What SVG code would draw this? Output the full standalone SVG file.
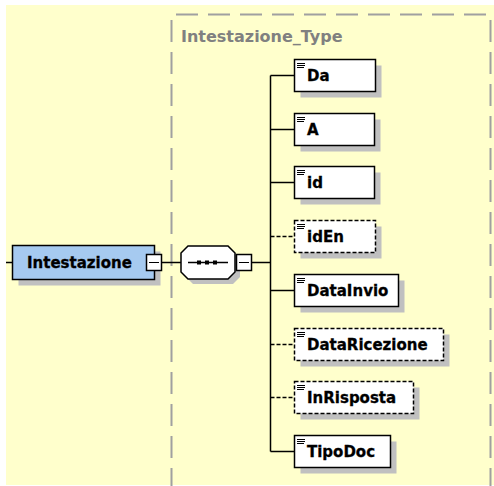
<svg xmlns="http://www.w3.org/2000/svg" width="494" height="486" viewBox="0 0 494 486">
<style>
.bg{fill:#FFFFCC}
.frame{fill:none;stroke:#A0A0A0;stroke-width:2;stroke-dasharray:22,10}
.title{font-family:"DejaVu Sans",sans-serif;font-weight:bold;font-size:16px;fill:#808080}
.shadow{fill:#C0C0C0}
.box{fill:#FFFFFF;stroke:#000;stroke-width:1.5}
.opt{fill:#FFFFFF;stroke:#000;stroke-width:1.5;stroke-dasharray:4,2}
.root{fill:#A6CAF0;stroke:#000;stroke-width:1.5}
.lbl{font-family:"DejaVu Sans",sans-serif;font-weight:bold;font-size:15px;fill:#000;stroke:#000;stroke-width:0.3}
.ico{stroke:#000;stroke-width:1}
.ln{stroke:#000;stroke-width:1.5;fill:none}
.dln{stroke:#000;stroke-width:1.5;fill:none;stroke-dasharray:4,2}
</style>
<rect x="0" y="0" width="494" height="486" fill="#FFFFFF"/>
<rect class="bg" x="6" y="5" width="488" height="480"/>
<path class="frame" d="M171.5,490 V14.5 H490.5 V490"/>
<text class="title" x="181" y="42">Intestazione_Type</text>

<g id="connectors">
  <line class="ln" x1="6" y1="262.5" x2="12.5" y2="262.5"/>
  <line class="ln" x1="162" y1="262.5" x2="181" y2="262.5"/>
  <line class="ln" x1="251.5" y1="262.5" x2="270.5" y2="262.5"/>
  <line class="ln" x1="270.5" y1="75.5" x2="270.5" y2="451.5"/>
  <line class="ln" x1="270.5" y1="75.5" x2="294.5" y2="75.5"/>
  <line class="ln" x1="270.5" y1="129.5" x2="294.5" y2="129.5"/>
  <line class="ln" x1="270.5" y1="182.5" x2="294.5" y2="182.5"/>
  <line class="dln" x1="270.5" y1="236.5" x2="294.5" y2="236.5"/>
  <line class="ln" x1="270.5" y1="290.5" x2="294.5" y2="290.5"/>
  <line class="dln" x1="270.5" y1="344.5" x2="294.5" y2="344.5"/>
  <line class="dln" x1="270.5" y1="397.5" x2="294.5" y2="397.5"/>
  <line class="ln" x1="270.5" y1="451.5" x2="294.5" y2="451.5"/>
</g>

<g id="Intestazione">
  <rect class="shadow" x="18.5" y="251.5" width="142" height="34"/>
  <rect class="root" x="12.5" y="245.5" width="142" height="34"/>
  <text class="lbl" x="27" y="268">Intestazione</text>
  <rect class="box" x="146.5" y="254.5" width="15" height="16"/>
  <line class="ico" x1="149" y1="262.5" x2="159" y2="262.5"/>
</g>

<g id="sequence">
  <polygon class="shadow" points="193,251 233,251 240,258 240,277 233,284 193,284 186,277 186,258"/>
  <polygon class="box" points="188,246 228,246 235,253 235,272 228,279 188,279 181,272 181,253"/>
  <line class="ln" x1="188" y1="262.5" x2="228" y2="262.5"/>
  <rect x="197" y="260.5" width="4" height="4" fill="#000"/>
  <rect x="205" y="260.5" width="4" height="4" fill="#000"/>
  <rect x="213" y="260.5" width="4" height="4" fill="#000"/>
  <rect class="box" x="236.5" y="254.5" width="15" height="16"/>
  <line class="ico" x1="239" y1="262.5" x2="249" y2="262.5"/>
</g>

<g id="Da">
  <rect class="shadow" x="300.5" y="65.5" width="81" height="32"/>
  <rect class="box" x="294.5" y="59.5" width="81" height="32"/>
  <path class="ico" d="M297,63.5 H305 M297,65.5 H305 M297,67.5 H304"/>
  <text class="lbl" x="307" y="81">Da</text>
</g>
<g id="A">
  <rect class="shadow" x="300.5" y="119.5" width="80" height="32"/>
  <rect class="box" x="294.5" y="113.5" width="80" height="32"/>
  <path class="ico" d="M297,117.5 H305 M297,119.5 H305 M297,121.5 H304"/>
  <text class="lbl" x="307" y="135">A</text>
</g>
<g id="id">
  <rect class="shadow" x="300.5" y="172.5" width="80" height="32"/>
  <rect class="box" x="294.5" y="166.5" width="80" height="32"/>
  <path class="ico" d="M297,170.5 H305 M297,172.5 H305 M297,174.5 H304"/>
  <text class="lbl" x="307" y="188">id</text>
</g>
<g id="idEn">
  <rect class="shadow" x="300.5" y="226.5" width="81" height="32"/>
  <rect class="opt" x="294.5" y="220.5" width="81" height="32"/>
  <path class="ico" d="M297,224.5 H305 M297,226.5 H305 M297,228.5 H304"/>
  <text class="lbl" x="307" y="242">idEn</text>
</g>
<g id="DataInvio">
  <rect class="shadow" x="300.5" y="280.5" width="104" height="32"/>
  <rect class="box" x="294.5" y="274.5" width="104" height="32"/>
  <path class="ico" d="M297,278.5 H305 M297,280.5 H305 M297,282.5 H304"/>
  <text class="lbl" x="307" y="296">DataInvio</text>
</g>
<g id="DataRicezione">
  <rect class="shadow" x="300.5" y="334.5" width="149" height="32"/>
  <rect class="opt" x="294.5" y="328.5" width="149" height="32"/>
  <path class="ico" d="M297,332.5 H305 M297,334.5 H305 M297,336.5 H304"/>
  <text class="lbl" x="307" y="350">DataRicezione</text>
</g>
<g id="InRisposta">
  <rect class="shadow" x="300.5" y="387.5" width="119" height="32"/>
  <rect class="opt" x="294.5" y="381.5" width="119" height="32"/>
  <path class="ico" d="M297,385.5 H305 M297,387.5 H305 M297,389.5 H304"/>
  <text class="lbl" x="307" y="403">InRisposta</text>
</g>
<g id="TipoDoc">
  <rect class="shadow" x="300.5" y="441.5" width="96" height="32"/>
  <rect class="box" x="294.5" y="435.5" width="96" height="32"/>
  <path class="ico" d="M297,439.5 H305 M297,441.5 H305 M297,443.5 H304"/>
  <text class="lbl" x="307" y="457">TipoDoc</text>
</g>
</svg>
